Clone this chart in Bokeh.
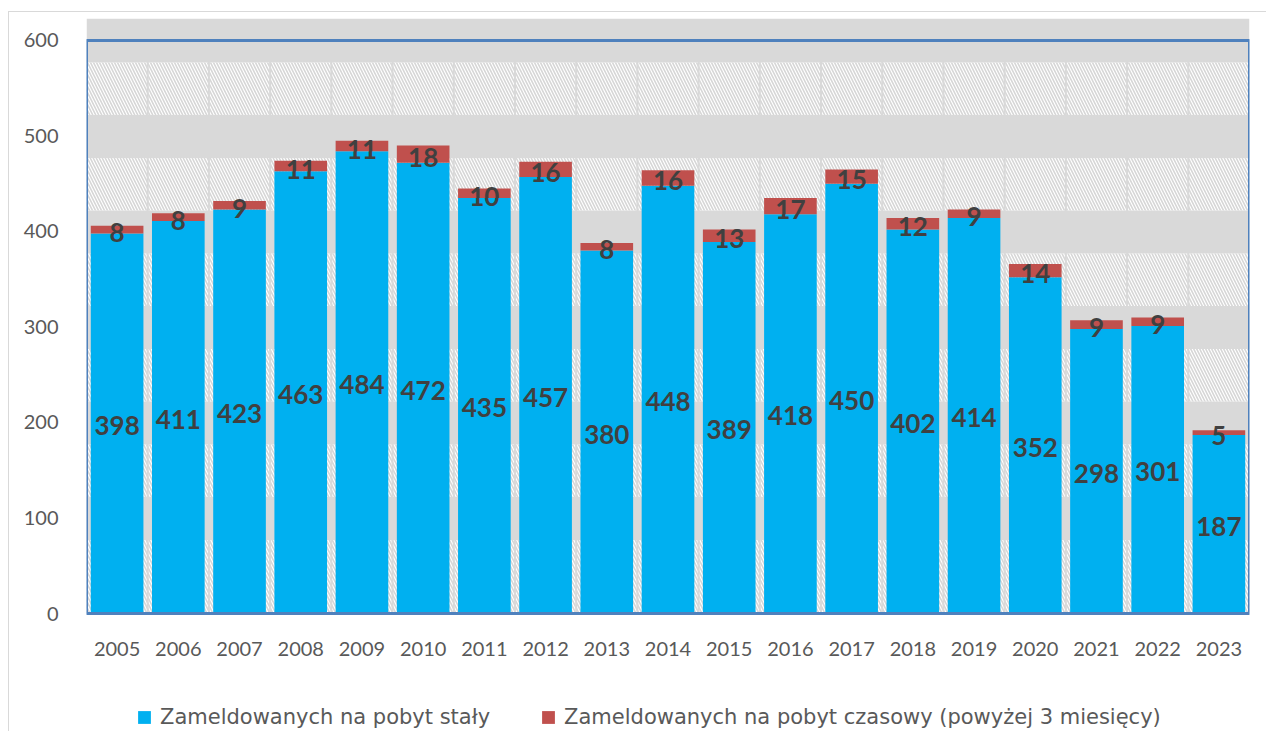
from bokeh.plotting import figure
from bokeh.models import Range1d, FixedTicker, Legend, LegendItem
from bokeh.core.properties import value
from bokeh.embed import file_html
from bokeh.resources import INLINE

years = ["2005", "2006", "2007", "2008", "2009", "2010", "2011", "2012", "2013", "2014",
         "2015", "2016", "2017", "2018", "2019", "2020", "2021", "2022", "2023"]
staly = [398, 411, 423, 463, 484, 472, 435, 457, 380, 448, 389, 418, 450, 402, 414, 352, 298, 301, 187]
czasowy = [8, 8, 9, 11, 11, 18, 10, 16, 8, 16, 13, 17, 15, 12, 9, 14, 9, 9, 5]
y_ticks = [0, 100, 200, 300, 400, 500, 600]
series_names = ["Zameldowanych na pobyt stały", "Zameldowanych na pobyt czasowy (powyżej 3 miesięcy)"]

BLUE = "#00B0F0"
RED = "#C0504D"
FONT = "Lato"

n = len(years)
xs = list(range(n))
totals = [a + b for a, b in zip(staly, czasowy)]

# frame spans down to the canvas bottom; the x axis is pinned at y=0
p = figure(width=1258, height=720,
           x_range=Range1d(-0.5, n - 0.5), y_range=Range1d(-124.6, 623),
           output_backend="svg", toolbar_location=None,
           min_border_left=77, min_border_right=18, min_border_top=6, min_border_bottom=0,
           background_fill_color="white", border_fill_color="white",
           styles={"margin": "11px 0px 0px 8px",
                   "border-top": "1px solid #d9d9d9", "border-left": "1px solid #d9d9d9"})
p.grid.visible = False
p.outline_line_color = None

# background: hatched zones, separators, grey bands
hb = [0] + [122 + 100 * k for k in range(5)]
ht = [77 + 100 * k for k in range(6)]
p.quad(left=-0.5, right=n - 0.5, bottom=hb, top=ht, fill_color="white", line_color=None,
       hatch_pattern="\\", hatch_color="#d6d6d6", hatch_scale=6, hatch_weight=1.6)
seps = [i + 0.5 for i in range(n - 1)]
p.segment(x0=seps, y0=0, x1=seps, y1=600, line_color="#d9d9d9", line_width=2)
gb = [77 + 100 * k for k in range(6)]
gt = [122 + 100 * k for k in range(5)] + [623]
p.quad(left=-0.5, right=n - 0.5, bottom=gb, top=gt, fill_color="#d9d9d9", line_color=None)

r1 = p.vbar(x=xs, top=staly, width=0.86, fill_color=BLUE, line_color=None)
r2 = p.vbar(x=xs, bottom=staly, top=totals, width=0.86, fill_color=RED, line_color=None)

p.quad(left=-0.5, right=n - 0.5, bottom=0, top=600, fill_color=None,
       line_color="#4F81BD", line_width=3)

p.text(x=xs, y=[v / 2 for v in staly], text=[str(v) for v in staly],
       text_align="center", text_baseline="middle", text_font=value(FONT),
       text_font_style="bold", text_font_size="26px", text_color="#404040", y_offset=2)
p.text(x=xs, y=[a + b / 2 for a, b in zip(staly, czasowy)], text=[str(v) for v in czasowy],
       text_align="center", text_baseline="middle", text_font=value(FONT),
       text_font_style="bold", text_font_size="26px", text_color="#404040", y_offset=3)

for ax in (p.xaxis[0], p.yaxis[0]):
    ax.axis_line_color = None
    ax.major_tick_line_color = None
    ax.minor_tick_line_color = None
    ax.major_label_text_font = FONT
    ax.major_label_text_font_size = "20px"
    ax.major_label_text_color = "#595959"
p.yaxis.ticker = FixedTicker(ticks=y_ticks)
p.yaxis.major_label_standoff = 22
p.xaxis.ticker = FixedTicker(ticks=xs)
p.xaxis.major_label_overrides = {i: y for i, y in enumerate(years)}
p.xaxis.major_label_standoff = 22
p.xaxis.fixed_location = 0

legend = Legend(items=[LegendItem(label=series_names[0], renderers=[r1]),
                       LegendItem(label=series_names[1], renderers=[r2])],
                orientation="horizontal", location=(50, 3),
                border_line_color=None, background_fill_alpha=0, padding=0, margin=0,
                spacing=50, label_standoff=8, glyph_width=16, glyph_height=16,
                label_text_font="DejaVu Sans", label_text_font_size="21px",
                label_text_color="#595959")
p.add_layout(legend)

open("out.html", "w").write(file_html(p, INLINE))
